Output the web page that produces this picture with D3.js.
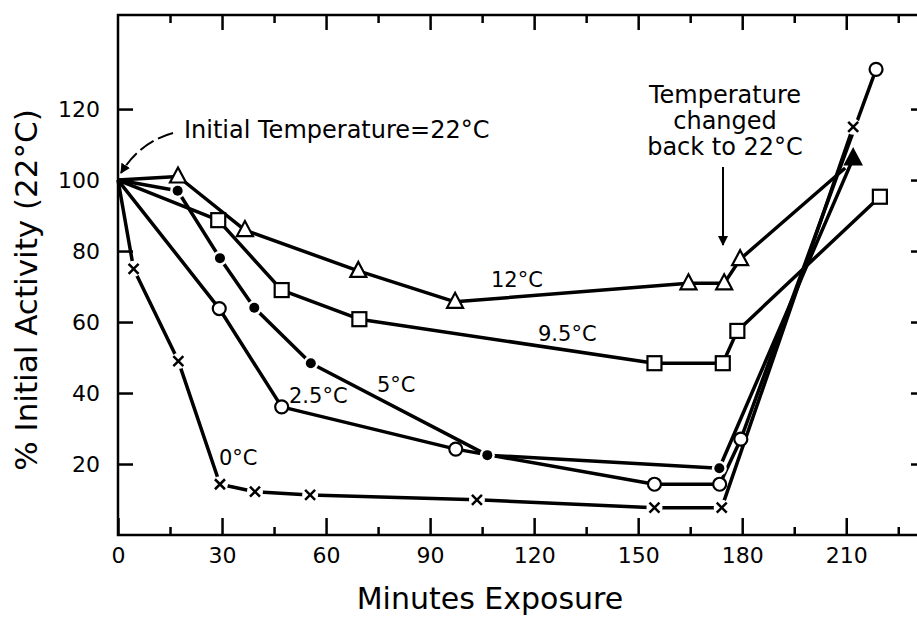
<!DOCTYPE html>
<html>
<head>
<meta charset="utf-8">
<script src="https://cdn.jsdelivr.net/npm/d3@7"></script>
<style>
  body { margin: 0; background: #fff; }
  svg { display: block; }
  text { font-family: "DejaVu Sans", sans-serif; fill: #000; }
</style>
</head>
<body>
<svg width="917" height="618"></svg>
<script>
// Define SVG dimensions
const width = 917
const height = 618

// data: minutes of exposure and % initial activity
const t0 = [0, 4.5, 17.4, 29.4, 39.5, 55.4, 103.5, 154.7, 174.1, 212]
const v0 = [100, 75, 49, 14.3, 12.2, 11.3, 9.9, 7.7, 7.7, 115]

const t25 = [0, 29.2, 47.2, 97.4, 154.7, 173.5, 179.6, 218.6]
const v25 = [100, 63.8, 36.1, 24.2, 14.3, 14.3, 27, 131.2]

const t5 = [0, 17.2, 29.4, 39.3, 55.6, 106.5, 173.4, 212]
const v5 = [100, 97, 78, 64, 48.4, 22.5, 18.8, 106.1]

const t95 = [0, 28.9, 47.2, 69.6, 154.7, 174.4, 178.6, 219.7]
const v95 = [100, 88.7, 69, 60.8, 48.4, 48.4, 57.5, 95.3]

const t12 = [0, 17.3, 36.6, 69.3, 97.2, 164.5, 174.8, 179.4, 209.7]
const v12 = [100, 101, 85.9, 74.4, 65.7, 70.9, 70.9, 77.7, 103.4]

const xTicks = [0, 30, 60, 90, 120, 150, 180, 210]
const xMinor = [15, 45, 75, 105, 135, 165, 195, 225]
const yTicks = [20, 40, 60, 80, 100, 120]

const series = [
  {label: "0°C", t: t0, v: v0, symbol: "cross"},
  {label: "2.5°C", t: t25, v: v25, symbol: "circle"},
  {label: "5°C", t: t5, v: v5, symbol: "dot"},
  {label: "9.5°C", t: t95, v: v95, symbol: "square"},
  {label: "12°C", t: t12, v: v12, symbol: "triangle"}
]

const svg = d3.select("svg")

const plot = {left: 118, right: 926, top: 15, bottom: 535}

const x = d3.scaleLinear().domain([0, 233]).range([plot.left, plot.right])
const y = d3.scaleLinear().domain([0, 146.5]).range([plot.bottom, plot.top])

//################### frame and ticks ####################

svg.append("rect")
  .attr("x", plot.left)
  .attr("y", plot.top)
  .attr("width", plot.right - plot.left)
  .attr("height", plot.bottom - plot.top)
  .style("fill", "none")
  .style("stroke", "black")
  .style("stroke-width", 2.5)

function tickGroup(axis, transform) {
  const g = svg.append("g").attr("transform", transform).call(axis)
  g.select(".domain").remove()
  g.selectAll("line").style("stroke", "black").style("stroke-width", 2.5)
  g.selectAll("text")
    .style("font-family", "'DejaVu Sans', sans-serif")
    .style("font-size", "22px")
    .style("fill", "black")
  return g
}

// bottom: labelled major ticks pointing up, minor in between
tickGroup(d3.axisBottom(x).tickValues(xTicks).tickSize(-17).tickPadding(12).tickFormat(d3.format("d")),
  "translate(0," + plot.bottom + ")")
tickGroup(d3.axisBottom(x).tickValues(xMinor).tickSize(-8).tickFormat(""),
  "translate(0," + plot.bottom + ")")
// top
tickGroup(d3.axisTop(x).tickValues(xTicks.slice(1)).tickSize(-15).tickFormat(""),
  "translate(0," + plot.top + ")")
tickGroup(d3.axisTop(x).tickValues(xMinor).tickSize(-8).tickFormat(""),
  "translate(0," + plot.top + ")")
// left
tickGroup(d3.axisLeft(y).tickValues(yTicks).tickSize(-15).tickPadding(18),
  "translate(" + plot.left + ",0)")
// right
tickGroup(d3.axisRight(y).tickValues(yTicks).tickSize(-15).tickFormat(""),
  "translate(" + plot.right + ",0)")

//################### series ####################

const line = d3.line()
  .x(d => x(d.t))
  .y(d => y(d.v))

series.forEach(s => {
  s.points = s.t.map((t, i) => ({t: t, v: s.v[i]}))
})

series.forEach(s => {
  svg.append("path")
    .datum(s.points)
    .attr("fill", "none")
    .attr("stroke", "black")
    .attr("stroke-width", 3.5)
    .attr("stroke-linejoin", "round")
    .attr("d", line)
})

function drawMarker(g, symbol, px, py) {
  if (symbol === "circle") {
    g.append("circle").attr("cx", px).attr("cy", py).attr("r", 6.5)
      .attr("fill", "white").attr("stroke", "black").attr("stroke-width", 2.2)
  } else if (symbol === "dot") {
    g.append("circle").attr("cx", px).attr("cy", py).attr("r", 7.5).attr("fill", "white")
    g.append("circle").attr("cx", px).attr("cy", py).attr("r", 5).attr("fill", "black")
  } else if (symbol === "square") {
    g.append("rect").attr("x", px - 7).attr("y", py - 7).attr("width", 14).attr("height", 14)
      .attr("fill", "white").attr("stroke", "black").attr("stroke-width", 2.2)
  } else if (symbol === "triangle" || symbol === "filledTriangle") {
    const filled = symbol === "filledTriangle"
    g.append("path")
      .attr("d", `M${px},${py - 9}L${px + 8},${py + 6}L${px - 8},${py + 6}Z`)
      .attr("fill", filled ? "black" : "white").attr("stroke", "black").attr("stroke-width", 2.2)
  } else if (symbol === "cross") {
    const c = `M${px - 5},${py - 5}L${px + 5},${py + 5}M${px + 5},${py - 5}L${px - 5},${py + 5}`
    g.append("circle").attr("cx", px).attr("cy", py).attr("r", 8).attr("fill", "white")
    g.append("path").attr("d", c).attr("stroke", "black").attr("stroke-width", 2.5)
  }
}

const markers = svg.append("g")
series.forEach(s => {
  s.points.forEach((d, i) => {
    if (i === 0) return // all curves start from the 22°C value, no symbol
    if (s.symbol === "triangle" && i === s.points.length - 1) return
    let sym = s.symbol
    if (s.symbol === "dot" && i === s.points.length - 1) sym = "filledTriangle"
    drawMarker(markers, sym, x(d.t), y(d.v))
  })
})

//################### labels ####################

const curveLabels = [
  {text: "0°C", px: 219, py: 465},
  {text: "2.5°C", px: 289, py: 403},
  {text: "5°C", px: 377, py: 392},
  {text: "9.5°C", px: 538, py: 341},
  {text: "12°C", px: 491, py: 287}
]
svg.selectAll(".clabel")
  .data(curveLabels)
  .enter().append("text")
  .attr("x", d => d.px)
  .attr("y", d => d.py)
  .style("font-size", "21px")
  .text(d => d.text)

svg.append("text")
  .attr("x", 184)
  .attr("y", 138)
  .style("font-size", "24px")
  .text("Initial Temperature=22°C")

// dashed arrow to the start value
svg.append("defs").append("marker")
  .attr("id", "head")
  .attr("viewBox", "0 0 10 10")
  .attr("refX", 9).attr("refY", 5)
  .attr("markerWidth", 5).attr("markerHeight", 5)
  .attr("orient", "auto")
  .append("path").attr("d", "M0,0L10,5L0,10Z").attr("fill", "black")

svg.append("path")
  .attr("d", "M173,133 Q140,142 121,173")
  .attr("fill", "none")
  .attr("stroke", "black")
  .attr("stroke-width", 2)
  .attr("stroke-dasharray", "16,5")
  .attr("marker-end", "url(#head)")

const note = svg.append("text")
  .attr("text-anchor", "middle")
  .style("font-size", "24px")
;["Temperature", "changed", "back to 22°C"].forEach((s, i) => {
  note.append("tspan").attr("x", 725).attr("y", 103 + i * 26).text(s)
})

svg.append("line")
  .attr("x1", 723).attr("y1", 167)
  .attr("x2", 723).attr("y2", 245)
  .attr("stroke", "black")
  .attr("stroke-width", 2)
  .attr("marker-end", "url(#head)")

// axis titles
svg.append("text")
  .attr("x", 490)
  .attr("y", 609)
  .attr("text-anchor", "middle")
  .style("font-size", "30px")
  .text("Minutes Exposure")

svg.append("text")
  .attr("transform", "translate(37,290) rotate(-90)")
  .attr("text-anchor", "middle")
  .style("font-size", "31px")
  .text("% Initial Activity (22°C)")
</script>
</body>
</html>
